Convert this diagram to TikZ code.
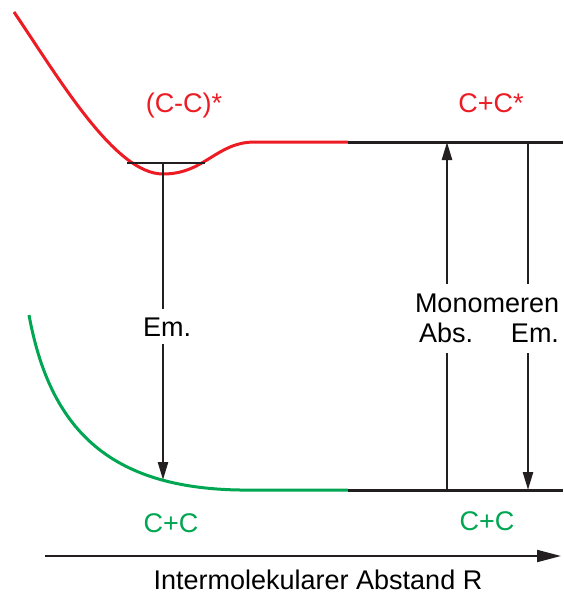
\documentclass[tikz,border=0pt]{standalone}
\usepackage{fontspec}
\setmainfont{Liberation Sans}
\usetikzlibrary{arrows.meta}
\definecolor{cRed}{HTML}{ED1C24}
\definecolor{cGreen}{HTML}{00A651}
\definecolor{cLine}{HTML}{231F20}
\tikzset{
  txt/.style={font=\fontsize{27}{30}\selectfont,inner sep=0pt},
  cut/.style={txt,fill=white,inner xsep=3pt,inner ysep=8pt},
  level/.style={cLine,line width=3pt},
  curve/.style={line width=3pt},
  trans/.style={-{Triangle[length=18pt,width=10pt]},cLine,line width=2.5pt},
  axis/.style={-{Triangle[length=24pt,width=12pt]},cLine,line width=2pt},
}
\begin{document}
\begin{tikzpicture}[x=1pt,y=-1pt]
  \useasboundingbox (0,0) rectangle (563,594);
  % excited state (excimer) and ground state curves
  \coordinate (exMin) at (163,174);
  \draw[curve,cRed] (14,12) .. controls (60,80) and (115,174) .. (exMin)
    .. controls (205,174) and (216,142) .. (255,142) -- (348,142);
  \draw[curve,cGreen] (29,315) .. controls (50,430) and (110,488) .. (240,490)
    -- (348,490);
  % monomer levels
  \coordinate (exA) at (348,142);
  \coordinate (exB) at (563,142);
  \coordinate (grA) at (348,490);
  \coordinate (grB) at (563,490);
  \draw[level] (exA) -- (exB);
  \draw[level] (grA) -- (grB);
  % vibrational level in the minimum
  \coordinate (vibL) at (127,163);
  \coordinate (vibR) at (205,163);
  \draw[cLine,line width=2pt] (vibL) -- (vibR);
  % transitions
  \coordinate (emTop) at (163,163);
  \coordinate (emBot) at (163,480);
  \coordinate (absBot) at (447,490);
  \coordinate (absTop) at (447,142);
  \coordinate (monTop) at (528,142);
  \coordinate (monBot) at (528,490);
  \draw[trans] (emTop) -- (emBot);
  \draw[trans] (absBot) -- (absTop);
  \draw[trans] (monTop) -- (monBot);
  % labels
  \node[cut,anchor=base] (em) at (167,336) {Em.};
  \node[cut,inner ysep=10pt,anchor=north,text width=144pt,align=center] (mono) at (487,284)
    {Monomeren\\\hspace*{4pt}Abs.\hfill Em.\hspace*{6pt}};
  \node[txt,anchor=base,text=cRed] (exc) at (184,112) {(C-C)*};
  \node[txt,anchor=base,text=cRed] (monex) at (491,112) {C+C*};
  \node[txt,anchor=base,text=cGreen] (gnd) at (171,532) {C+C};
  \node[txt,anchor=base,text=cGreen] (mongnd) at (487,530) {C+C};
  % distance axis
  \coordinate (axL) at (45,556);
  \coordinate (axR) at (561,556);
  \draw[axis] (axL) -- (axR);
  \node[txt,anchor=base] (axlbl) at (318,589) {Intermolekularer Abstand R};
\end{tikzpicture}
\end{document}
